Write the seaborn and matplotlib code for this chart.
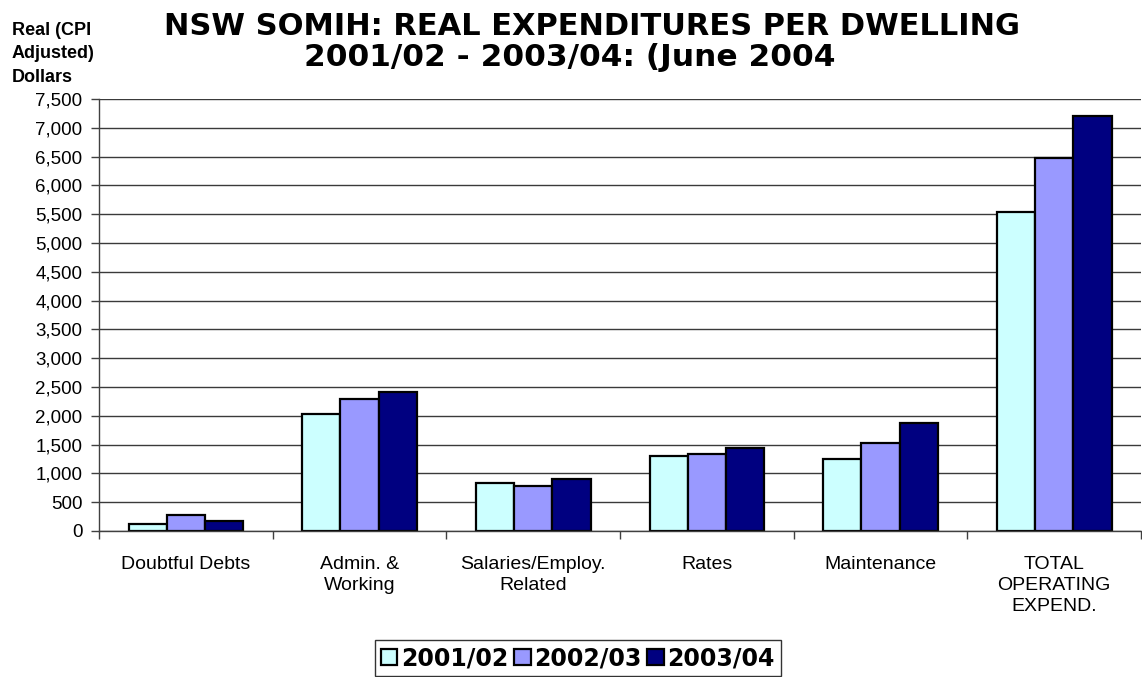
import matplotlib
matplotlib.use("Agg")
import matplotlib.pyplot as plt
import seaborn as sns
import pandas as pd
from matplotlib.ticker import FuncFormatter, MultipleLocator, FixedLocator

categories = ["Doubtful Debts", "Admin. &\nWorking", "Salaries/Employ.\nRelated",
              "Rates", "Maintenance", "TOTAL\nOPERATING\nEXPEND."]
years = ["2001/02", "2002/03", "2003/04"]
v_2001_02 = [115, 2035, 833, 1300, 1255, 5545]
v_2002_03 = [278, 2285, 786, 1337, 1533, 6480]
v_2003_04 = [167, 2413, 908, 1447, 1880, 7205]
colors = ["#CCFFFF", "#9999FF", "#000080"]

rows = []
for year, vals in zip(years, [v_2001_02, v_2002_03, v_2003_04]):
    for cat, v in zip(categories, vals):
        rows.append({"Category": cat, "Year": year, "Value": v})
df = pd.DataFrame(rows)

sns.set_theme(style="white")
plt.rcParams["font.family"] = ["Liberation Sans", "DejaVu Sans"]
plt.rcParams.update({"text.color": "black", "axes.labelcolor": "black",
                     "xtick.color": "black", "ytick.color": "black"})

fig = plt.figure(figsize=(11.42, 6.77), dpi=100)
ax = fig.add_axes([0.0867, 0.2157, 0.9125, 0.638])

sns.barplot(data=df, x="Category", y="Value", hue="Year", order=categories,
            hue_order=years, palette=colors, width=0.66, edgecolor="black",
            linewidth=1.6, saturation=1, ax=ax, legend=True, errorbar=None)

ax.set_ylim(0, 7500)
ax.set_xlim(-0.5, len(categories) - 0.5)
ax.yaxis.set_major_locator(MultipleLocator(500))
ax.yaxis.set_major_formatter(FuncFormatter(lambda v, p: f"{int(v):,}"))
ax.grid(axis="y", color="#3a3a3a", linewidth=1.0)
ax.set_axisbelow(True)

# category labels centred, tick marks on the boundaries between groups
ax.xaxis.set_major_locator(FixedLocator([i + 0.5 for i in range(-1, len(categories))]))
ax.xaxis.set_major_formatter(FuncFormatter(lambda v, p: ""))
ax.xaxis.set_minor_locator(FixedLocator(list(range(len(categories)))))
ax.set_xticklabels(categories, minor=True, linespacing=1.3)
ax.tick_params(axis="x", which="major", length=6, width=1, color="#404040", bottom=True, direction="out")
ax.tick_params(axis="x", which="minor", length=0, labelsize=14, pad=18)
ax.tick_params(axis="y", length=6, width=1, color="#404040", left=True, direction="out",
               labelsize=13.5, pad=6)

for s in ["top", "right"]:
    ax.spines[s].set_visible(False)
for s in ["left", "bottom"]:
    ax.spines[s].set_color("#404040")
    ax.spines[s].set_linewidth(1.0)

ax.set_xlabel("")
ax.set_ylabel("")

fig.text(0.518, 1 - 35 / 677, "NSW SOMIH: REAL EXPENDITURES PER DWELLING",
         ha="center", va="baseline", fontsize=22, fontweight="bold", family="DejaVu Sans")
fig.text(0.499, 1 - 66 / 677, "2001/02 - 2003/04: (June 2004",
         ha="center", va="baseline", fontsize=22.5, fontweight="bold", family="DejaVu Sans")
fig.text(0.0105, 1 - 22 / 677, "Real (CPI\nAdjusted)\nDollars", ha="left", va="top",
         fontsize=13, fontweight="bold", linespacing=1.5)

handles, labels = ax.get_legend_handles_labels()
ax.get_legend().remove()
leg = fig.legend(handles, labels, loc="lower center", bbox_to_anchor=(0.506, -0.016), ncol=3,
                 frameon=True, fancybox=False, edgecolor="black", handlelength=0.7,
                 handleheight=0.7, handletextpad=0.15, columnspacing=0.25, borderpad=0.25,
                 prop={"family": "DejaVu Sans", "weight": "bold", "size": 17})
leg.get_frame().set_linewidth(1.0)

fig.savefig("out.png", dpi=100)
